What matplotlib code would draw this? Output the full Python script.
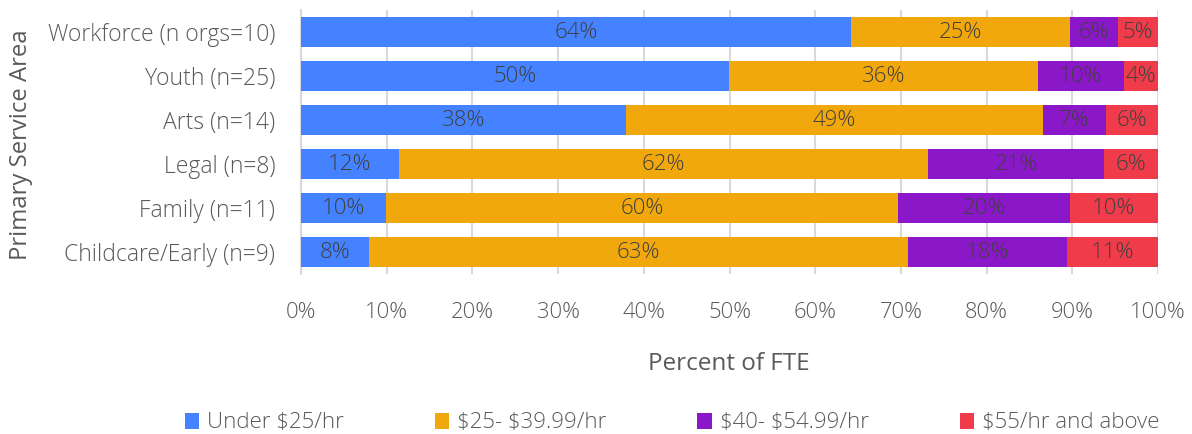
import numpy as np
import matplotlib.pyplot as plt

# Datos (porcentaje de FTE por area)
categorias = ["Workforce (n orgs=10)", "Youth (n=25)", "Arts (n=14)",
              "Legal (n=8)", "Family (n=11)", "Childcare/Early (n=9)"]
under_25 = [64.2, 49.9, 37.9, 11.4, 9.9, 7.9]
de_25_40 = [25.5, 36.1, 48.7, 61.8, 59.8, 62.9]
de_40_55 = [5.6, 10.0, 7.3, 20.5, 20.0, 18.6]
sobre_55 = [4.7, 4.0, 6.1, 6.3, 10.3, 10.6]
etiquetas_under_25 = ["64%", "50%", "38%", "12%", "10%", "8%"]
etiquetas_25_40 = ["25%", "36%", "49%", "62%", "60%", "63%"]
etiquetas_40_55 = ["6%", "10%", "7%", "21%", "20%", "18%"]
etiquetas_55 = ["5%", "4%", "6%", "6%", "10%", "11%"]
series = [r"Under \$25/hr", r"\$25- \$39.99/hr", r"\$40- \$54.99/hr",
          r"\$55/hr and above"]

colores = ["#4482FF", "#F0A80C", "#8B18C8", "#F03C4A"]
valores = [under_25, de_25_40, de_40_55, sobre_55]
etiquetas = [etiquetas_under_25, etiquetas_25_40, etiquetas_40_55, etiquetas_55]

plt.rcParams['font.family'] = ['Open Sans', 'DejaVu Sans']
plt.rcParams['font.weight'] = 'light'
gris = "#595959"

fig = plt.figure(figsize=(11.92, 4.34), dpi=100)
ax = fig.add_axes([301 / 1192, 1 - 274 / 434, 857 / 1192, 264 / 434])

y = np.arange(len(categorias))
izquierda = np.zeros(len(categorias))
for vals, col, nombre, labs in zip(valores, colores, series, etiquetas):
    barras = ax.barh(y, vals, left=izquierda, height=0.66, color=col,
                     label=nombre, zorder=3)
    ax.bar_label(barras, labels=labs, label_type='center', fontsize=16,
                 color="#404040")
    izquierda += np.array(vals)

ax.set_xlim(0, 100)
ax.set_ylim(len(categorias) - 0.5, -0.5)
ax.set_yticks(y)
ax.set_yticklabels(categorias, fontsize=16.5, color=gris)
ax.set_xticks(np.arange(0, 101, 10))
ax.set_xticklabels([f"{v}%" for v in range(0, 101, 10)], fontsize=15.8, color=gris)
ax.tick_params(axis='y', length=0, pad=18.5)
ax.tick_params(axis='x', length=0, pad=20)
ax.grid(axis='x', color="#D9D9D9", linewidth=1.5, zorder=0)
for lado in ['top', 'right', 'bottom']:
    ax.spines[lado].set_visible(False)
ax.spines['left'].set_color("#D9D9D9")
ax.spines['left'].set_linewidth(1.5)

ax.set_xlabel("Percent of FTE", fontsize=17.5, color=gris)
ax.xaxis.set_label_coords(428 / 857, -(352 - 274) / 264)
ax.set_ylabel("Primary Service Area", fontsize=17.2, color=gris)
ax.yaxis.set_label_coords(-(301 - 33) / 857, (274 - 145) / 264)

fig.legend(loc='center', bbox_to_anchor=(672 / 1192, 1 - 423 / 434), ncol=4,
           frameon=False, fontsize=16, labelcolor=gris, handlelength=0.65,
           handleheight=0.75, handletextpad=0.35, columnspacing=4.1)

plt.savefig("out.png", dpi=100)
